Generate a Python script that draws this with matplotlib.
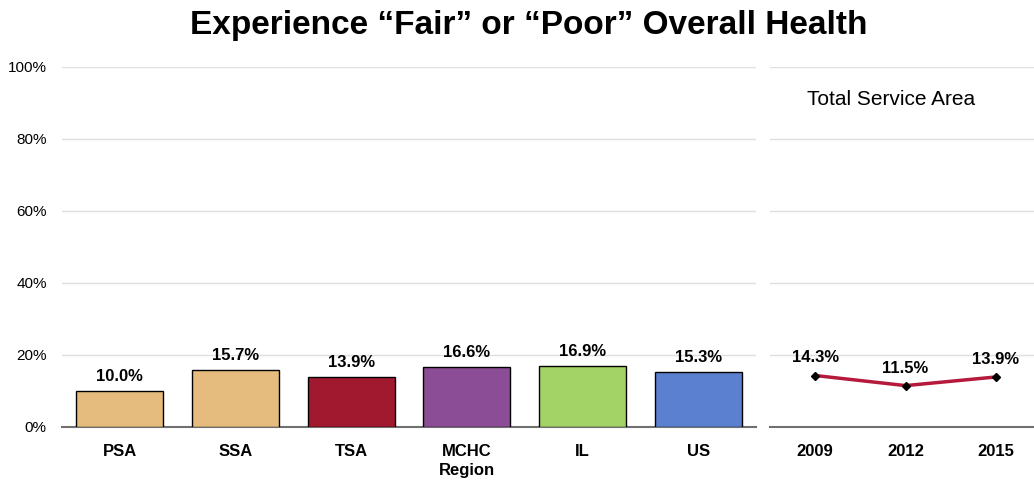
import matplotlib
matplotlib.use("Agg")
import matplotlib.pyplot as plt
from matplotlib.ticker import PercentFormatter

plt.rcParams['font.family'] = ['Liberation Sans Narrow', 'Liberation Sans', 'DejaVu Sans']

# ===== DATA =====
areas = ['PSA', 'SSA', 'TSA', 'MCHC\nRegion', 'IL', 'US']
area_values = [10.0, 15.7, 13.9, 16.6, 16.9, 15.3]
area_colors = ['#E5BC7E', '#E5BC7E', '#A0192E', '#8C4D97', '#A3D266', '#5B80CF']

years = ['2009', '2012', '2015']
trend_values = [14.3, 11.5, 13.9]

yticks = [0, 20, 40, 60, 80, 100]

fig = plt.figure(figsize=(10.34, 4.82), dpi=100)

# ===== LEFT: BARS =====
ax = fig.add_axes([62 / 1034, 55 / 482, 694 / 1034, 360 / 482])
x = range(len(areas))
ax.bar(x, area_values, width=0.75, color=area_colors, edgecolor='black', linewidth=1.0, zorder=3)
for i, v in enumerate(area_values):
    ax.text(i, v + 2.0, f"{v:.1f}%", ha='center', va='bottom', fontsize=12, fontweight='bold')
ax.set_xlim(-0.5, len(areas) - 0.5)
ax.set_ylim(0, 100)
ax.set_xticks(list(x))
ax.set_xticklabels(areas, fontsize=12, fontweight='bold', linespacing=1.35)
ax.set_yticks(yticks)
ax.yaxis.set_major_formatter(PercentFormatter(decimals=0))
ax.tick_params(axis='y', labelsize=11, length=0, pad=11)
ax.tick_params(axis='x', length=0, pad=12)

# ===== RIGHT: TREND =====
ax2 = fig.add_axes([770 / 1034, 55 / 482, 264 / 1034, 360 / 482])
xs = range(len(years))
ax2.plot(xs, trend_values, color='#B51A3C', linewidth=2.5, marker='D', markersize=4.5,
         markerfacecolor='black', markeredgecolor='black', zorder=3)
for i, v in enumerate(trend_values):
    ax2.text(i, v + 2.8, f"{v:.1f}%", ha='center', va='bottom', fontsize=12, fontweight='bold')
ax2.set_xlim(-0.5, 2.42)
ax2.set_ylim(0, 100)
ax2.set_xticks(list(xs))
ax2.set_xticklabels(years, fontsize=12, fontweight='bold')
ax2.set_yticks(yticks)
ax2.set_yticklabels([])
ax2.tick_params(axis='both', length=0)
ax2.tick_params(axis='x', pad=12)
ax2.text(0.458, 0.91, "Total Service Area", transform=ax2.transAxes, ha='center', va='center',
         fontsize=15)

for a in (ax, ax2):
    for s in ['top', 'right', 'left']:
        a.spines[s].set_visible(False)
    a.spines['bottom'].set_color('#707070')
    a.spines['bottom'].set_linewidth(1.5)
    a.grid(axis='y', color='#E0E0E0', linewidth=1.0, zorder=0)
    a.set_axisbelow(True)

fig.suptitle("Experience \u201cFair\u201d or \u201cPoor\u201d Overall Health", x=0.511, y=0.98,
             fontsize=24, fontweight='bold', family=['Liberation Sans', 'DejaVu Sans'])

fig.savefig("out.png", dpi=100)
